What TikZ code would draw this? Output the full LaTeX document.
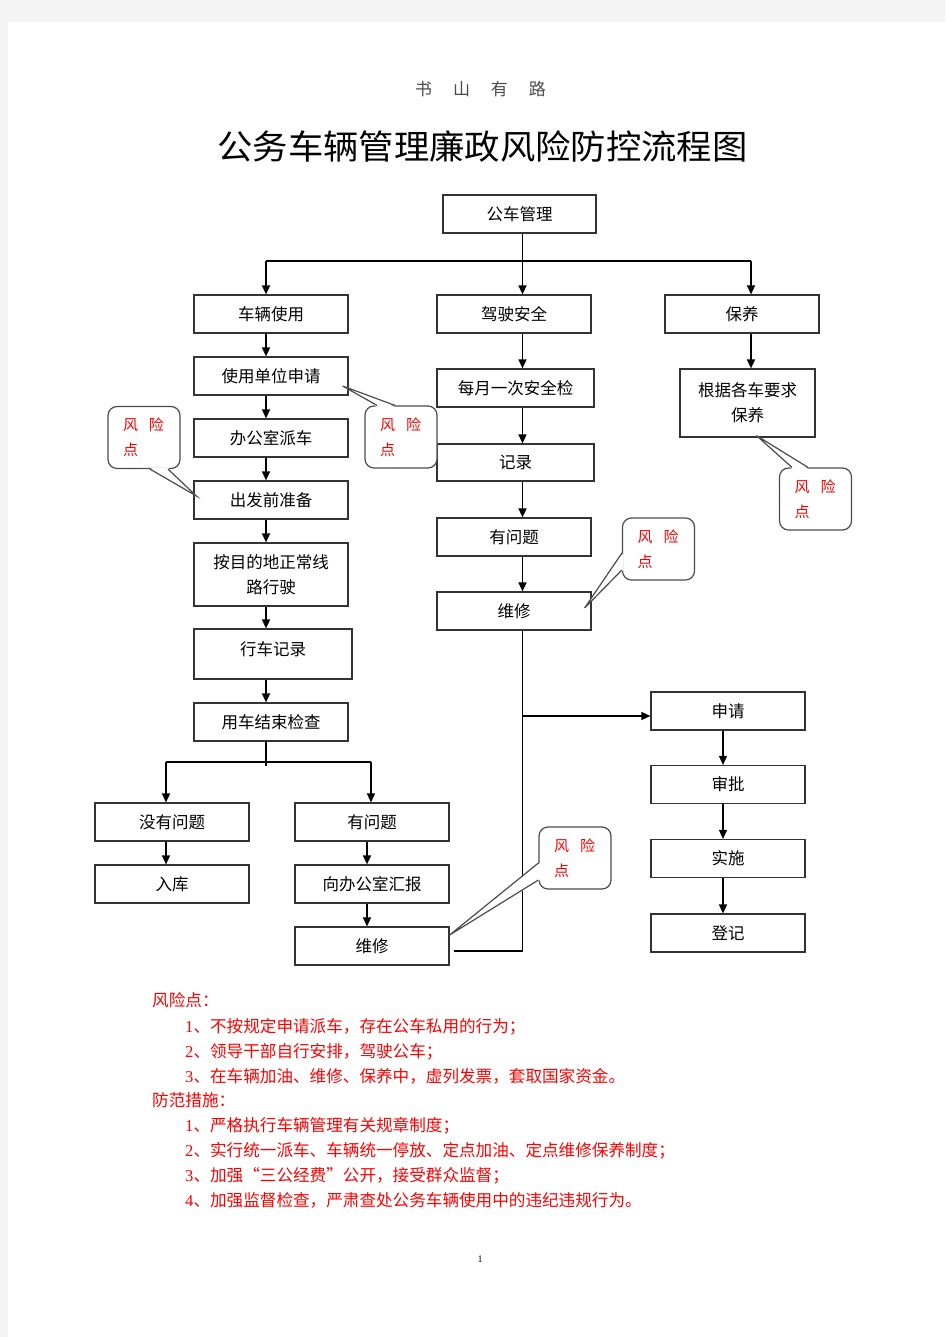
\documentclass[tikz,border=0pt]{standalone}
\usepackage{fontspec}
\setmainfont{Noto Sans CJK SC}
\newfontfamily\titlef[FakeStretch=1.04]{Noto Sans CJK SC}
\newfontfamily\numf{Liberation Serif}
\usetikzlibrary{arrows.meta}
\definecolor{pagegray}{HTML}{F4F4F4}
\definecolor{riskred}{HTML}{FF0000}
\tikzset{
  box/.style={draw=black!80, line width=1.2pt, fill=white, minimum width=154pt, minimum height=38pt,
    inner sep=0pt, font=\fontsize{16.5}{25}\selectfont, align=center},
  ln/.style={line width=1.5pt, black},
  arr/.style={ln, -{Triangle[length=9pt,width=8pt]}},
  callout/.style={draw=black!70, line width=1.2pt, rounded corners=9pt, fill=white, text=riskred,
    minimum width=72pt, minimum height=62pt, inner xsep=15pt, inner ysep=0pt, text width=42pt, align=left,
    font=\fontsize{15}{25}\selectfont},
  cl/.style={draw=black!70, line width=1.2pt},
  note/.style={anchor=west, inner sep=0pt, text=riskred, font=\fontsize{16.6}{16.6}\selectfont}
}
\begin{document}
\begin{tikzpicture}[x=1pt,y=-1pt]
\useasboundingbox (0,0) rectangle (945,1337);
\fill[pagegray] (0,0) rectangle (945,1337);
\fill[white] (8,22) rectangle (945,1337);

% header and title
\node[text=black!70, font=\fontsize{17}{17}\selectfont] (hdr) at (480.5,89) {书\hspace{21pt}山\hspace{21pt}有\hspace{21pt}路};
\node[font=\titlef\fontsize{34}{34}\selectfont] (title) at (482.5,147) {公务车辆管理廉政风险防控流程图};

% column coordinates
\coordinate (colL) at (266,0);
\coordinate (colM) at (522.5,0);
\coordinate (colR) at (751,0);
\coordinate (colD) at (166,0);
\coordinate (colE) at (371,0);
\coordinate (colE2) at (367,0);
\coordinate (colF) at (723,0);
\coordinate (bus1) at (0,261);
\coordinate (bus2) at (0,762);

% boxes
\node[box, minimum width=153pt] (gc) at (519.5,214) {公车管理};
\node[box] (a1) at (271,314) {车辆使用};
\node[box] (a2) at (271,376) {使用单位申请};
\node[box] (a3) at (271,438) {办公室派车};
\node[box] (a4) at (271,500) {出发前准备};
\node[box, minimum height=63pt] (a5) at (271,574.5) {按目的地正常线\\路行驶};
\node[box, minimum width=158pt, minimum height=50pt] (a6) at (273,654) {\raisebox{5pt}[0.9em][0.1em]{行车记录}};
\node[box] (a7) at (271,722) {用车结束检查};
\node[box] (d1) at (172,822) {没有问题};
\node[box] (e1) at (372,822) {有问题};
\node[box] (d2) at (172,884) {入库};
\node[box] (e2) at (372,884) {向办公室汇报};
\node[box] (e3) at (372,946) {维修};
\node[box] (b1) at (514,314) {驾驶安全};
\node[box, minimum width=157pt] (b2) at (515.5,388) {每月一次安全检};
\node[box, minimum width=157pt, minimum height=37pt] (b3) at (515.5,462.5) {记录};
\node[box] (b4) at (514,537) {有问题};
\node[box] (b5) at (514,611) {维修};
\node[box] (c1) at (742,314) {保养};
\node[box, minimum width=135pt, minimum height=68pt] (c2) at (747.5,403) {根据各车要求\\保养};
\node[box] (f1) at (728,711) {申请};
\node[box] (f2) at (728,784.5) {审批};
\node[box] (f3) at (728,858.5) {实施};
\node[box] (f4) at (728,933) {登记};
\coordinate (f1in) at ([yshift=-5pt]f1.west);
\coordinate (e3in) at ([xshift=4pt,yshift=-5pt]e3.east);

% top distribution
\draw[arr] (gc.south -| colM) -- (b1.north -| colM);
\draw[ln] (colL |- bus1) -- (colR |- bus1);
\draw[arr] (colL |- bus1) -- (a1.north -| colL);
\draw[arr] (colR |- bus1) -- (c1.north -| colR);

% left column
\draw[arr] (a1.south -| colL) -- (a2.north -| colL);
\draw[arr] (a2.south -| colL) -- (a3.north -| colL);
\draw[arr] (a3.south -| colL) -- (a4.north -| colL);
\draw[arr] (a4.south -| colL) -- (a5.north -| colL);
\draw[arr] (a5.south -| colL) -- (a6.north -| colL);
\draw[arr] (a6.south -| colL) -- (a7.north -| colL);
\draw[ln] (a7.south -| colL) -- ++(0,24);
\draw[ln] (colD |- bus2) -- (colE |- bus2);
\draw[arr] (colD |- bus2) -- (d1.north -| colD);
\draw[arr] (colE |- bus2) -- (e1.north -| colE);
\draw[arr] (d1.south -| colD) -- (d2.north -| colD);
\draw[arr] (e1.south -| colE2) -- (e2.north -| colE2);
\draw[arr] (e2.south -| colE2) -- (e3.north -| colE2);

% middle column
\draw[arr] (b1.south -| colM) -- (b2.north -| colM);
\draw[arr] (b2.south -| colM) -- (b3.north -| colM);
\draw[arr] (b3.south -| colM) -- (b4.north -| colM);
\draw[arr] (b4.south -| colM) -- (b5.north -| colM);
\draw[ln] (b5.south -| colM) |- (e3in);
\draw[arr] (colM |- f1in) -- (f1in);

% right columns
\draw[arr] (c1.south -| colR) -- (c2.north -| colR);
\draw[arr] (f1.south -| colF) -- (f2.north -| colF);
\draw[arr] (f2.south -| colF) -- (f3.north -| colF);
\draw[arr] (f3.south -| colF) -- (f4.north -| colF);

% risk callouts
\node[callout] (k1) at (144,437.5) {风\hspace{11pt}险\\点};
\fill[white] ([xshift=6pt,yshift=1.5pt]k1.south) -- ([xshift=3pt,yshift=4pt]a4.west) -- ([xshift=24pt,yshift=1.5pt]k1.south) -- cycle;
\draw[cl] ([xshift=6pt]k1.south) -- ([xshift=3pt,yshift=4pt]a4.west) -- ([xshift=24pt]k1.south);

\node[callout] (k2) at (401,437) {风\hspace{11pt}险\\点};
\fill[white] ([xshift=-24pt,yshift=-1.5pt]k2.north) -- ([xshift=-6pt,yshift=-10pt]a2.east) -- ([xshift=-6pt,yshift=-1.5pt]k2.north) -- cycle;
\draw[cl] ([xshift=-24pt]k2.north) -- ([xshift=-6pt,yshift=-10pt]a2.east) -- ([xshift=-6pt]k2.north);

\node[callout] (k3) at (815.5,499) {风\hspace{11pt}险\\点};
\fill[white] ([xshift=-23.5pt,yshift=-1.5pt]k3.north) -- ([xshift=9pt,yshift=2pt]c2.south) -- ([xshift=-7.5pt,yshift=-1.5pt]k3.north) -- cycle;
\draw[cl] ([xshift=-23.5pt]k3.north) -- ([xshift=9pt,yshift=2pt]c2.south) -- ([xshift=-7.5pt]k3.north);

\node[callout] (k4) at (658.5,549) {风\hspace{11pt}险\\点};
\fill[white] ([xshift=1.5pt,yshift=-4pt]k4.west) -- ([xshift=-7pt,yshift=3pt]b5.east) -- ([xshift=1.5pt,yshift=-21pt]k4.west) -- cycle;
\draw[cl] ([yshift=-4pt]k4.west) -- ([xshift=-7pt,yshift=3pt]b5.east) -- ([yshift=-21pt]k4.west);

\node[callout] (k5) at (575,858) {风\hspace{11pt}险\\点};
\fill[white] ([xshift=1.5pt,yshift=-5pt]k5.west) -- ([yshift=11pt]e3.east) -- ([xshift=1.5pt,yshift=-22pt]k5.west) -- cycle;
\draw[cl] ([yshift=-5pt]k5.west) -- ([yshift=11pt]e3.east) -- ([yshift=-22pt]k5.west);

% notes
\node[note] (r0) at (152,1000) {风险点：};
\node[note] (r1) at (185,1026.5) {{\numf 1}、不按规定申请派车，存在公车私用的行为；};
\node[note] (r2) at (185,1051.5) {{\numf 2}、领导干部自行安排，驾驶公车；};
\node[note] (r3) at (185,1076.5) {{\numf 3}、在车辆加油、维修、保养中，虚列发票，套取国家资金。};
\node[note] (p0) at (152,1100) {防范措施：};
\node[note] (p1) at (185,1125.5) {{\numf 1}、严格执行车辆管理有关规章制度；};
\node[note] (p2) at (185,1150.5) {{\numf 2}、实行统一派车、车辆统一停放、定点加油、定点维修保养制度；};
\node[note] (p3) at (185,1175.5) {{\numf 3}、加强“三公经费”公开，接受群众监督；};
\node[note] (p4) at (185,1200) {{\numf 4}、加强监督检查，严肃查处公务车辆使用中的违纪违规行为。};

\node[font=\numf\fontsize{10}{10}\selectfont] (pg) at (480,1259) {1};
\end{tikzpicture}
\end{document}
